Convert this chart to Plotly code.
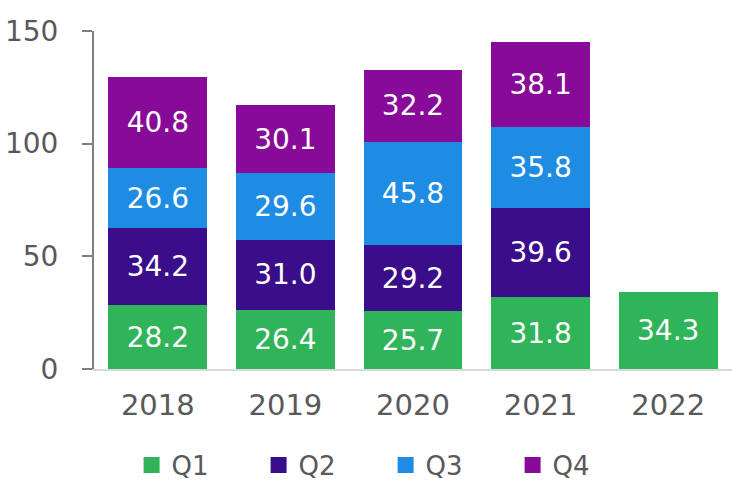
import plotly.graph_objects as go

years = ["2018", "2019", "2020", "2021", "2022"]
q1 = [28.2, 26.4, 25.7, 31.8, 34.3]
q2 = [34.2, 31.0, 29.2, 39.6, None]
q3 = [26.6, 29.6, 45.8, 35.8, None]
q4 = [40.8, 30.1, 32.2, 38.1, None]
series_names = ["Q1", "Q2", "Q3", "Q4"]
colors = ["#30B45A", "#3A0E8A", "#1E8CE2", "#870A98"]

FONT = "DejaVu Sans"
fig = go.Figure()
for name, vals, col in zip(series_names, [q1, q2, q3, q4], colors):
    fig.add_trace(go.Bar(
        x=years, y=vals, name=name, marker=dict(color=col, line=dict(width=0)),
        texttemplate="%{y:.1f}", textposition="inside", insidetextanchor="middle",
        textfont=dict(family=FONT, size=28, color="white"), constraintext="none",
        showlegend=False, hoverinfo="skip"))
for name, col in zip(series_names, colors):
    fig.add_trace(go.Scatter(
        x=[None], y=[None], mode="markers", name=name,
        marker=dict(symbol="square", size=16, color=col)))

fig.update_layout(
    barmode="stack", bargap=0.225,
    width=741, height=490,
    margin=dict(l=94, r=9, t=31, b=121, autoexpand=False),
    paper_bgcolor="white", plot_bgcolor="white",
    font=dict(family=FONT, color="#595959"),
    legend=dict(orientation="h", xref="container", yref="container",
                x=0.1776, xanchor="left", y=0.051, yanchor="middle",
                traceorder="normal",
                font=dict(family=FONT, size=26, color="#595959"),
                entrywidth=82, entrywidthmode="pixels"),
)
fig.update_xaxes(showline=True, linecolor="#D9D9D9", linewidth=1.5, showgrid=False,
                 ticks="", tickfont=dict(family=FONT, size=29, color="#595959"),
                 ticklabelstandoff=9, automargin=False)
fig.update_yaxes(range=[0, 150], tickvals=[0, 50, 100, 150], showline=True,
                 linecolor="#808080", linewidth=2, showgrid=False, zeroline=False,
                 ticks="outside", ticklen=10, tickcolor="#808080", tickwidth=2,
                 tickfont=dict(family=FONT, size=28, color="#595959"),
                 ticklabelstandoff=18, automargin=False)
fig.write_html("out.html", config={"displayModeBar": False},
               post_script="document.body.style.margin='0';document.body.style.overflow='hidden';")
